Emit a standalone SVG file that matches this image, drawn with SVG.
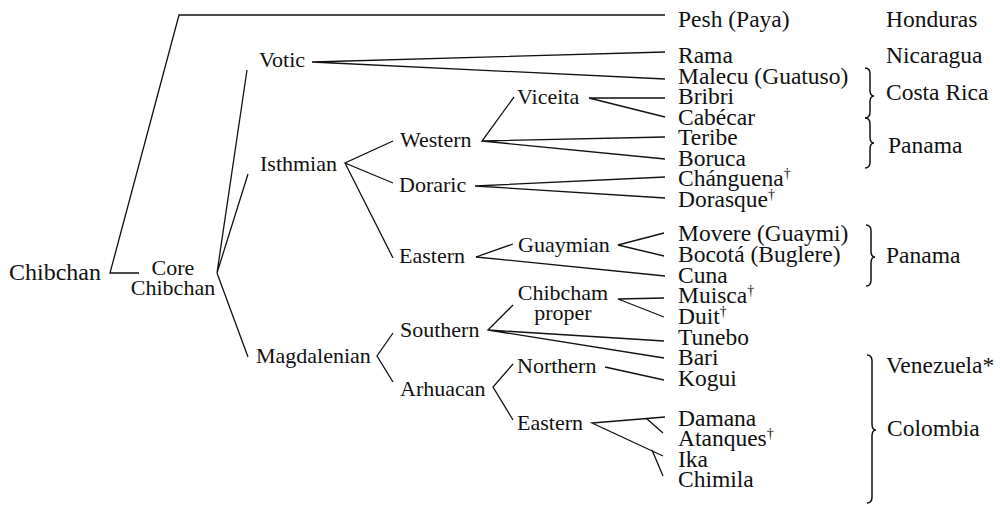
<svg xmlns="http://www.w3.org/2000/svg" width="1000" height="506" viewBox="0 0 1000 506">
<style>
text{font-family:"Liberation Serif","Times New Roman",serif;fill:#111}
.leaf{font-size:23.5px}
.mid{font-size:22px}
.root{font-size:24px}
.ctry{font-size:23.5px}
.sup{font-size:14px}
.c{fill:none;stroke:#111;stroke-width:1.3;stroke-linejoin:miter}
.b{fill:none;stroke:#111;stroke-width:1.5}
</style>
<rect width="1000" height="506" fill="#fff"/>
<g id="connectors">
<path class="c" d="M665 15 L179 15 L110 273 L139 273"/>
<path class="c" d="M247 70 L217 273 L248 174 M217 273 L248 357"/>
<path class="c" d="M665 52 L312 62 L665 79"/>
<path class="c" d="M393 141 L345 163 L393 183 M345 163 L393 258"/>
<path class="c" d="M514 97 L482 141 L665 137 M482 141 L665 159"/>
<path class="c" d="M665 98 L589 98 L665 117"/>
<path class="c" d="M665 177 L475 186 L665 198"/>
<path class="c" d="M513 244 L476 257 L665 276"/>
<path class="c" d="M664 233 L618 245 L664 256"/>
<path class="c" d="M393 333 L377 356 L393 382"/>
<path class="c" d="M513 305 L488 330 L664 341 M488 330 L664 358"/>
<path class="c" d="M664 298 L618 299 L664 317"/>
<path class="c" d="M513 364 L493 387 L513 420"/>
<path class="c" d="M605 367 L664 380"/>
<path class="c" d="M665 417 L592 423 L663 456 M647 419 L663 433 M652 450 L663 476"/>
</g>
<g id="braces">
<path class="b" d="M865 68 Q870 68 870 74 L870 90 Q870 96 874 96 Q870 96 870 102 L870 112 Q870 118 865 118"/>
<path class="b" d="M865 118 Q870 118 870 124 L870 137 Q870 143 874 143 Q870 143 870 149 L870 162 Q870 168 865 168"/>
<path class="b" d="M866 225 Q871 225 871 231 L871 251 Q871 257 875 257 Q871 257 871 263 L871 280 Q871 286 866 286"/>
<path class="b" d="M867 355 Q872 355 872 361 L872 424 Q872 430 876 430 Q872 430 872 436 L872 497 Q872 503 867 503"/>
</g>
<g id="n-chibchan"><text class="root" x="9" y="280">Chibchan</text></g>
<g id="n-core"><text class="mid" x="173" y="275" text-anchor="middle">Core</text><text class="mid" x="173" y="295" text-anchor="middle">Chibchan</text></g>
<g id="n-votic"><text class="mid" x="259" y="67">Votic</text></g>
<g id="n-isthmian"><text class="mid" x="260" y="171">Isthmian</text></g>
<g id="n-magdalenian"><text class="mid" x="256" y="363">Magdalenian</text></g>
<g id="n-western"><text class="mid" x="400" y="147">Western</text></g>
<g id="n-doraric"><text class="mid" x="399" y="192">Doraric</text></g>
<g id="n-eastern-isthmian"><text class="mid" x="399" y="263">Eastern</text></g>
<g id="n-southern"><text class="mid" x="400" y="337">Southern</text></g>
<g id="n-arhuacan"><text class="mid" x="400" y="396">Arhuacan</text></g>
<g id="n-viceita"><text class="mid" x="517" y="104">Viceita</text></g>
<g id="n-guaymian"><text class="mid" x="518" y="252">Guaymian</text></g>
<g id="n-chibcham"><text class="mid" x="563" y="300" text-anchor="middle">Chibcham</text><text class="mid" x="563" y="320" text-anchor="middle">proper</text></g>
<g id="n-northern"><text class="mid" x="517" y="373">Northern</text></g>
<g id="n-eastern-arhuacan"><text class="mid" x="517" y="430">Eastern</text></g>
<g id="leaves">
<text class="leaf" x="678" y="26.5">Pesh (Paya)</text>
<text class="leaf" x="678" y="63">Rama</text>
<text class="leaf" x="678" y="83.5">Malecu (Guatuso)</text>
<text class="leaf" x="678" y="104">Bribri</text>
<text class="leaf" x="678" y="124.5">Cabécar</text>
<text class="leaf" x="678" y="145">Teribe</text>
<text class="leaf" x="678" y="165.5">Boruca</text>
<text class="leaf" x="678" y="186">Chánguena<tspan class="sup" dy="-8">†</tspan></text>
<text class="leaf" x="678" y="206.5">Dorasque<tspan class="sup" dy="-8">†</tspan></text>
<text class="leaf" x="678" y="241">Movere (Guaymi)</text>
<text class="leaf" x="678" y="261.5">Bocotá (Buglere)</text>
<text class="leaf" x="678" y="282.5">Cuna</text>
<text class="leaf" x="678" y="303">Muisca<tspan class="sup" dy="-8">†</tspan></text>
<text class="leaf" x="678" y="324">Duit<tspan class="sup" dy="-8">†</tspan></text>
<text class="leaf" x="678" y="345">Tunebo</text>
<text class="leaf" x="678" y="365">Bari</text>
<text class="leaf" x="678" y="385.5">Kogui</text>
<text class="leaf" x="678" y="426">Damana</text>
<text class="leaf" x="678" y="446">Atanques<tspan class="sup" dy="-8">†</tspan></text>
<text class="leaf" x="678" y="466.5">Ika</text>
<text class="leaf" x="678" y="486.5">Chimila</text>
</g>
<g id="countries">
<text class="ctry" x="886" y="26.5">Honduras</text>
<text class="ctry" x="886" y="63">Nicaragua</text>
<text class="ctry" x="886" y="100">Costa Rica</text>
<text class="ctry" x="888" y="153">Panama</text>
<text class="ctry" x="886" y="263">Panama</text>
<text class="ctry" x="886" y="373">Venezuela*</text>
<text class="ctry" x="887" y="436">Colombia</text>
</g>
</svg>
